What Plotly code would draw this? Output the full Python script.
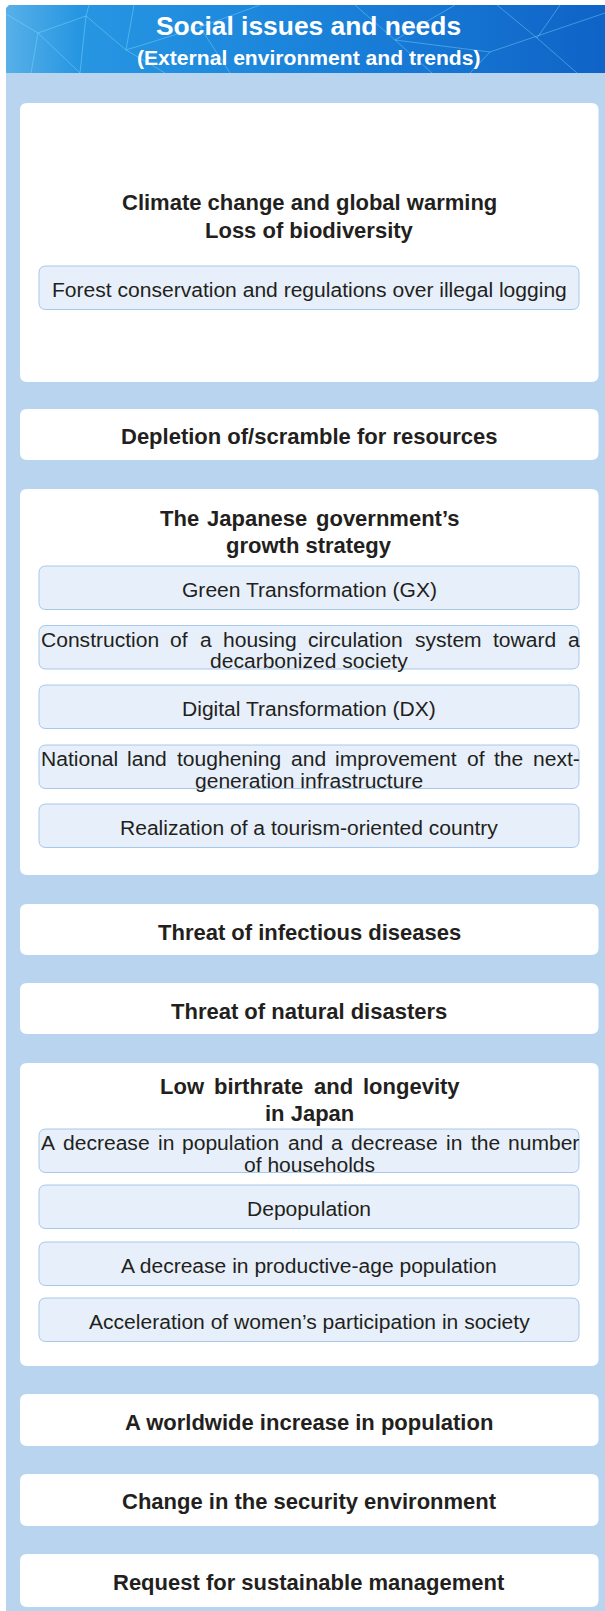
import plotly.graph_objects as go

W, H = 605, 1611

# ---------------- content ----------------
header_title = "Social issues and needs"
header_sub = "(External environment and trends)"

box_titles = [
    ["Climate change and global warming", "Loss of biodiversity"],
    ["Depletion of/scramble for resources"],
    ["The Japanese government’s", "growth strategy"],
    ["Threat of infectious diseases"],
    ["Threat of natural disasters"],
    ["Low birthrate and longevity", "in Japan"],
    ["A worldwide increase in population"],
    ["Change in the security environment"],
    ["Request for sustainable management"],
]

box_items = [
    [["Forest conservation and regulations over illegal logging"]],
    [],
    [["Green Transformation (GX)"],
     ["Construction of a housing circulation system toward a", "decarbonized society"],
     ["Digital Transformation (DX)"],
     ["National land toughening and improvement of the next-", "generation infrastructure"],
     ["Realization of a tourism-oriented country"]],
    [],
    [],
    [["A decrease in population and a decrease in the number", "of households"],
     ["Depopulation"],
     ["A decrease in productive-age population"],
     ["Acceleration of women’s participation in society"]],
    [],
    [],
    [],
]

# ---------------- layout (positions) ----------------
box_top = [103, 409, 489, 904, 983, 1063, 1394, 1474, 1554]
box_bot = [382, 460, 875, 955, 1034, 1366, 1446, 1526, 1607]
title_y = [[202.5, 230], [436.5], [518, 545.5], [932.5], [1011.5], [1086.5, 1113], [1422], [1501.5], [1582.5]]
title_justify = [False, False, True, False, False, True, False, False, False]
item_top = [[266], [], [566, 625.5, 685, 745, 804], [], [], [1129, 1185, 1242, 1298], [], [], []]
ITEM_H = 43.5
TEXT_DY = 1.8

BOX_X0, BOX_X1 = 20, 598.5
SUB_X0, SUB_X1 = 39, 579
CX = (BOX_X0 + BOX_X1) / 2
TJ_X0, TJ_X1 = 159, 459

PANEL = "#b9d4ee"
SUB_FILL = "#e7f0fa"
SUB_LINE = "#a7c8ea"
TXT = "#231f20"
FONT = "Liberation Sans, Arial, sans-serif"
REG_SIZE = 21.05
BOLD_SIZE = 22.0

REG = dict(zip("abcdefghijklmnopqrstuvwxyz",
               [.556, .556, .5, .556, .556, .278, .556, .556, .222, .222, .5, .222, .833,
                .556, .556, .556, .556, .333, .5, .278, .556, .5, .722, .5, .5, .5]))
REG.update({"A": .667, "C": .722, "N": .722, "-": .333, " ": .278, "’": .222})
BOLD = dict(zip("abcdefghijklmnopqrstuvwxyz",
                [.556, .611, .556, .611, .556, .333, .611, .611, .278, .278, .556, .278, .889,
                 .611, .611, .611, .611, .389, .556, .333, .611, .556, .778, .556, .556, .5]))
BOLD.update({"T": .611, "J": .556, "L": .611, "’": .278, " ": .278})


def tw(s, table, size):
    return sum(table.get(c, 0.556) for c in s) * size


def rrect(x0, y0, x1, y1, r):
    return (f"M{x0+r},{y0} L{x1-r},{y0} Q{x1},{y0} {x1},{y0+r} L{x1},{y1-r} Q{x1},{y1} {x1-r},{y1} "
            f"L{x0+r},{y1} Q{x0},{y1} {x0},{y1-r} L{x0},{y0+r} Q{x0},{y0} {x0+r},{y0} Z")


fig = go.Figure()
shapes = []
ann = []


def add_text(x, y, s, size, bold=False, color=TXT, xanchor="center"):
    ann.append(dict(x=x, y=y, xref="x", yref="y", text=s, showarrow=False,
                    xanchor=xanchor, yanchor="middle", borderpad=0,
                    font=dict(family=FONT, size=size, color=color,
                              weight="bold" if bold else "normal")))


def add_justified(x0, x1, y, s, size, bold=False):
    table = BOLD if bold else REG
    words = s.split(" ")
    widths = [tw(w, table, size) for w in words]
    gap = (x1 - x0 - sum(widths)) / (len(words) - 1)
    x = x0
    for w, wd in zip(words, widths):
        add_text(x, y, w, size, bold, xanchor="left")
        x += wd + gap


# background panel
shapes.append(dict(type="rect", x0=6, x1=W, y0=70, y1=H, fillcolor=PANEL, line_width=0, layer="below"))

# header with gradient
hx = [6, 6, 9, W, W, 6]
hy = [73, 8, 5, 5, 73, 73]
fig.add_trace(go.Scatter(x=hx, y=hy, mode="lines", fill="toself", line=dict(width=0),
                         fillgradient=dict(type="horizontal",
                                           colorscale=[[0, "#58b0e8"], [0.12, "#2796e2"], [0.45, "#1c86dc"],
                                                       [0.75, "#1574d2"], [1, "#0f63c6"]]),
                         hoverinfo="skip", showlegend=False))

# decorative mesh lines in header
mesh = [
    [(6, 14), (38, 33), (86, 16), (89, 5)],
    [(38, 33), (31, 73)],
    [(38, 33), (80, 73)],
    [(86, 16), (80, 73)],
    [(86, 16), (126, 50), (134, 5)],
    [(126, 50), (165, 73)],
    [(126, 50), (200, 27), (260, 5)],
    [(200, 27), (230, 73)],
    [(355, 5), (395, 40), (432, 73)],
    [(395, 40), (455, 5)],
    [(395, 40), (490, 52), (605, 13)],
    [(497, 5), (537, 38), (577, 73)],
    [(490, 52), (470, 73)],
    [(537, 38), (560, 5)],
]
for seg in mesh:
    p = "M" + " L".join(f"{x},{y}" for x, y in seg)
    shapes.append(dict(type="path", path=p, line=dict(color="rgba(140,225,255,0.40)", width=1), layer="above"))

add_text(308, 26, header_title, 26.4, bold=True, color="#ffffff")
add_text(308, 57, header_sub, 21.1, bold=True, color="#ffffff")

# boxes
for i, titles in enumerate(box_titles):
    shapes.append(dict(type="path", path=rrect(BOX_X0, box_top[i], BOX_X1, box_bot[i], 7),
                       fillcolor="#ffffff", line_width=0, layer="below"))
    for j, t in enumerate(titles):
        if title_justify[i] and j == 0:
            add_justified(TJ_X0, TJ_X1, title_y[i][j], t, BOLD_SIZE, bold=True)
        else:
            add_text(CX, title_y[i][j], t, BOLD_SIZE, bold=True)
    for k, lines in enumerate(box_items[i]):
        t0 = item_top[i][k]
        t1 = t0 + ITEM_H
        shapes.append(dict(type="path", path=rrect(SUB_X0, t0, SUB_X1, t1, 7),
                           fillcolor=SUB_FILL, line=dict(color=SUB_LINE, width=1), layer="below"))
        if len(lines) == 1:
            add_text((SUB_X0 + SUB_X1) / 2, (t0 + t1) / 2 + TEXT_DY, lines[0], REG_SIZE)
        else:
            add_justified(SUB_X0 + 0.5, SUB_X1 - 0.5, t0 + 13.5, lines[0], REG_SIZE)
            add_text((SUB_X0 + SUB_X1) / 2, t0 + 35, lines[1], REG_SIZE)

fig.update_layout(
    width=W, height=H, margin=dict(l=0, r=0, t=0, b=0),
    paper_bgcolor="#ffffff", plot_bgcolor="#ffffff",
    xaxis=dict(range=[0, W], visible=False, fixedrange=True),
    yaxis=dict(range=[H, 0], visible=False, fixedrange=True),
    shapes=shapes, annotations=ann, showlegend=False,
)

fig.write_html("out.html", config={"displayModeBar": False},
               post_script="document.body.style.margin='0';document.body.style.overflow='hidden';")
